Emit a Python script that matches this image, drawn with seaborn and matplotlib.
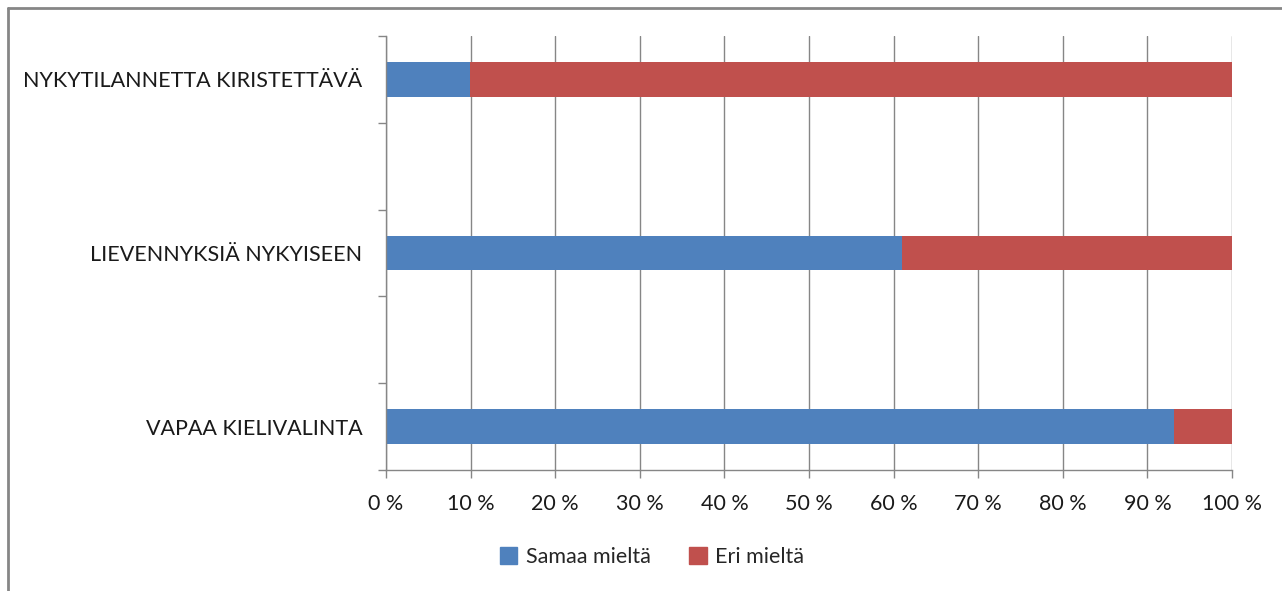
import matplotlib
matplotlib.use("Agg")
import matplotlib.pyplot as plt
import seaborn as sns
import pandas as pd
from matplotlib.lines import Line2D

categories = ["NYKYTILANNETTA KIRISTETTÄVÄ", "LIEVENNYKSIÄ NYKYISEEN", "VAPAA KIELIVALINTA"]
samaa = [9.9, 61.0, 93.1]
eri = [90.1, 39.0, 6.9]
series_names = ["Samaa mieltä", "Eri mieltä"]
x_ticks = [0, 10, 20, 30, 40, 50, 60, 70, 80, 90, 100]
x_tick_labels = [f"{t} %" for t in x_ticks]

sns.set_theme(style="white")
plt.rcParams['font.family'] = ['Lato', 'DejaVu Sans']

blue = "#4F81BD"
red = "#C0504D"
grid_c = "#868686"

df = pd.DataFrame({
    "cat": categories,
    "samaa": samaa,
    "total": [s + e for s, e in zip(samaa, eri)],
})
order = [categories[0], "gap1", categories[1], "gap2", categories[2]]

fig = plt.figure(figsize=(12.82, 5.91), dpi=100)
ax = fig.add_axes([386/1282, 1 - 470/591, (1232-386)/1282, (470-36)/591])

sns.barplot(data=df, y="cat", x="total", order=order, color=red, width=0.4,
            saturation=1, ax=ax, orient="h", linewidth=0)
sns.barplot(data=df, y="cat", x="samaa", order=order, color=blue, width=0.4,
            saturation=1, ax=ax, orient="h", linewidth=0)

ax.set_xlim(0, 100)
ax.set_ylim(4.5, -0.5)
ax.set_xticks(x_ticks)
ax.set_xticklabels(x_tick_labels, fontsize=15.5, color="#1a1a1a")
ax.set_xlabel("")
ax.set_ylabel("")

# category boundaries as major ticks, labels at centers as minor
ax.set_yticks([-0.5, 0.5, 1.5, 2.5, 3.5, 4.5])
ax.set_yticklabels([])
ax.set_yticks([0, 2, 4], minor=True)
ax.set_yticklabels(categories, minor=True, fontsize=15.5, color="#1a1a1a")
ax.tick_params(axis="y", which="major", length=6, width=1, color=grid_c, left=True, direction="out")
ax.tick_params(axis="y", which="minor", length=0, pad=17)
ax.tick_params(axis="x", which="major", length=6, width=1, color=grid_c, bottom=True, direction="out", pad=11)

ax.grid(axis="x", color=grid_c, linewidth=1)
ax.grid(axis="y", visible=False)
ax.set_axisbelow(True)
for s in ["top", "right"]:
    ax.spines[s].set_visible(False)
for s in ["left", "bottom"]:
    ax.spines[s].set_color(grid_c)
    ax.spines[s].set_linewidth(1)
if ax.get_legend() is not None:
    ax.get_legend().remove()

handles = [plt.Rectangle((0, 0), 1, 1, color=blue), plt.Rectangle((0, 0), 1, 1, color=red)]
fig.legend(handles, series_names, loc="center", bbox_to_anchor=(652/1282, 1 - 557/591),
           ncol=2, frameon=False, fontsize=15.5, handlelength=0.8, handleheight=0.8,
           columnspacing=1.8, handletextpad=0.4)

# outer chart frame (left and top edges)
fig.add_artist(Line2D([8/1282, 8/1282], [0, 1 - 8/591], transform=fig.transFigure, color=grid_c, linewidth=2))
fig.add_artist(Line2D([8/1282, 1], [1 - 8/591, 1 - 8/591], transform=fig.transFigure, color=grid_c, linewidth=2))

fig.savefig("out.png", dpi=100)
